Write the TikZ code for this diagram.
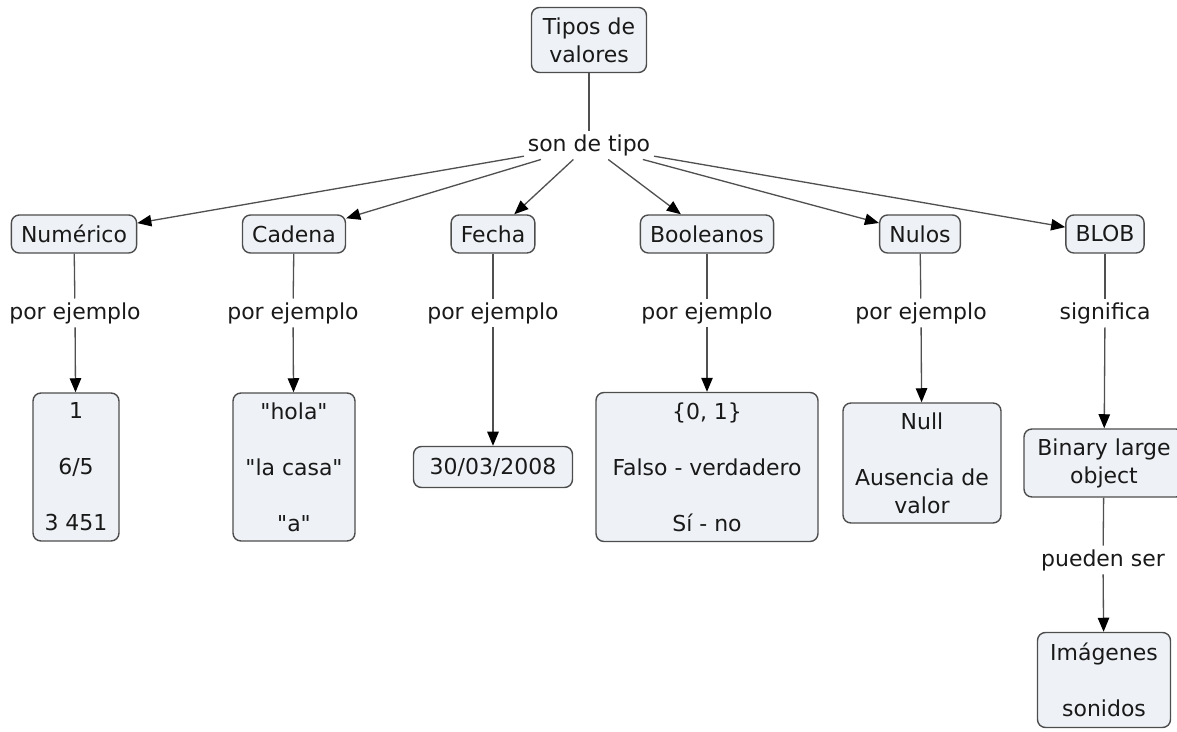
\documentclass[tikz,border=0pt]{standalone}
\usepackage{fontspec}
\setmainfont{DejaVu Sans}[Ligatures=TeXOff]
\usetikzlibrary{arrows.meta,positioning}
\definecolor{boxfill}{HTML}{EEF2F6}
\definecolor{boxline}{HTML}{4D4D4D}
\definecolor{linkgray}{HTML}{505050}

\begin{document}
\begin{tikzpicture}[x=0.02cm,y=-0.02cm,>={Triangle[length=8pt,width=6.5pt,color=black]},
  every node/.style={font=\fontsize{12.5}{15.9}\selectfont,text=black!90},
  concept/.style={draw=boxline,line width=0.8pt,rounded corners=4.5pt,fill=boxfill,align=center,inner xsep=5.5pt,inner ysep=3pt,minimum height=0.76cm},
  phrase/.style={inner sep=2pt},
  link/.style={draw=linkgray,line width=0.75pt}]
\useasboundingbox (0,0) rectangle (1177,732);
% root
\node[concept,minimum width=2.3cm,minimum height=1.3cm] (tipos) at (589,40) {Tipos de\\valores};
\node[phrase] (son) at (589,145) {son de tipo};
% kinds of values
\node[concept] (num) at (74,234) {Numérico};
\node[concept] (cad) at (294,234) {Cadena};
\node[concept] (fec) at (493,234) {Fecha};
\node[concept] (boo) at (707,234) {Booleanos};
\node[concept] (nul) at (920,234) {Nulos};
\node[concept] (blob) at (1105,234) {BLOB};
% link phrases
\node[phrase] (numlink) at (75,313) {por ejemplo};
\node[phrase] (cadlink) at (293,313) {por ejemplo};
\node[phrase] (feclink) at (493,313) {por ejemplo};
\node[phrase] (boolink) at (707,313) {por ejemplo};
\node[phrase] (nullink) at (921,313) {por ejemplo};
\node[phrase] (bloblink) at (1105,313) {significa};
% examples
\node[concept,minimum width=1.72cm,minimum height=2.96cm] (numex) at (76,467) {1\\[15.9pt]6/5\\[15.9pt]3 451};
\node[concept,minimum width=2.44cm,minimum height=2.96cm] (cadex) at (294,467) {"hola"\\[15.9pt]"la casa"\\[15.9pt]"a"};
\node[concept,minimum width=3.18cm,minimum height=0.82cm] (fecex) at (493,467) {30/03/2008};
\node[concept,minimum width=4.44cm,minimum height=2.98cm] (booex) at (707,467) {\{0, 1\}\\[15.9pt]Falso - verdadero\\[15.9pt]Sí - no};
\node[concept,minimum width=3.16cm,minimum height=2.4cm] (nulex) at (922,463) {Null\\[15.9pt]Ausencia de\\valor};
\node[concept,minimum width=3.2cm,minimum height=1.36cm] (blobex) at (1104,463) {Binary large\\object};
\node[phrase] (blobex2link) at (1103,560) {pueden ser};
\node[concept,minimum width=2.66cm,minimum height=1.9cm] (blobex2) at (1104,680) {Imágenes\\[15.9pt]sonidos};
% connectors
\draw[link] (tipos) -- (son);
\foreach \k in {num,cad,fec,boo,nul,blob} \draw[link,->] (son) -- (\k);
\foreach \k in {num,cad,fec,boo,nul,blob} {
  \draw[link] (\k) -- (\k link);
  \draw[link,->] (\k link) -- (\k ex);
}
\draw[link] (blobex) -- (blobex2link);
\draw[link,->] (blobex2link) -- (blobex2);
\end{tikzpicture}
\end{document}
